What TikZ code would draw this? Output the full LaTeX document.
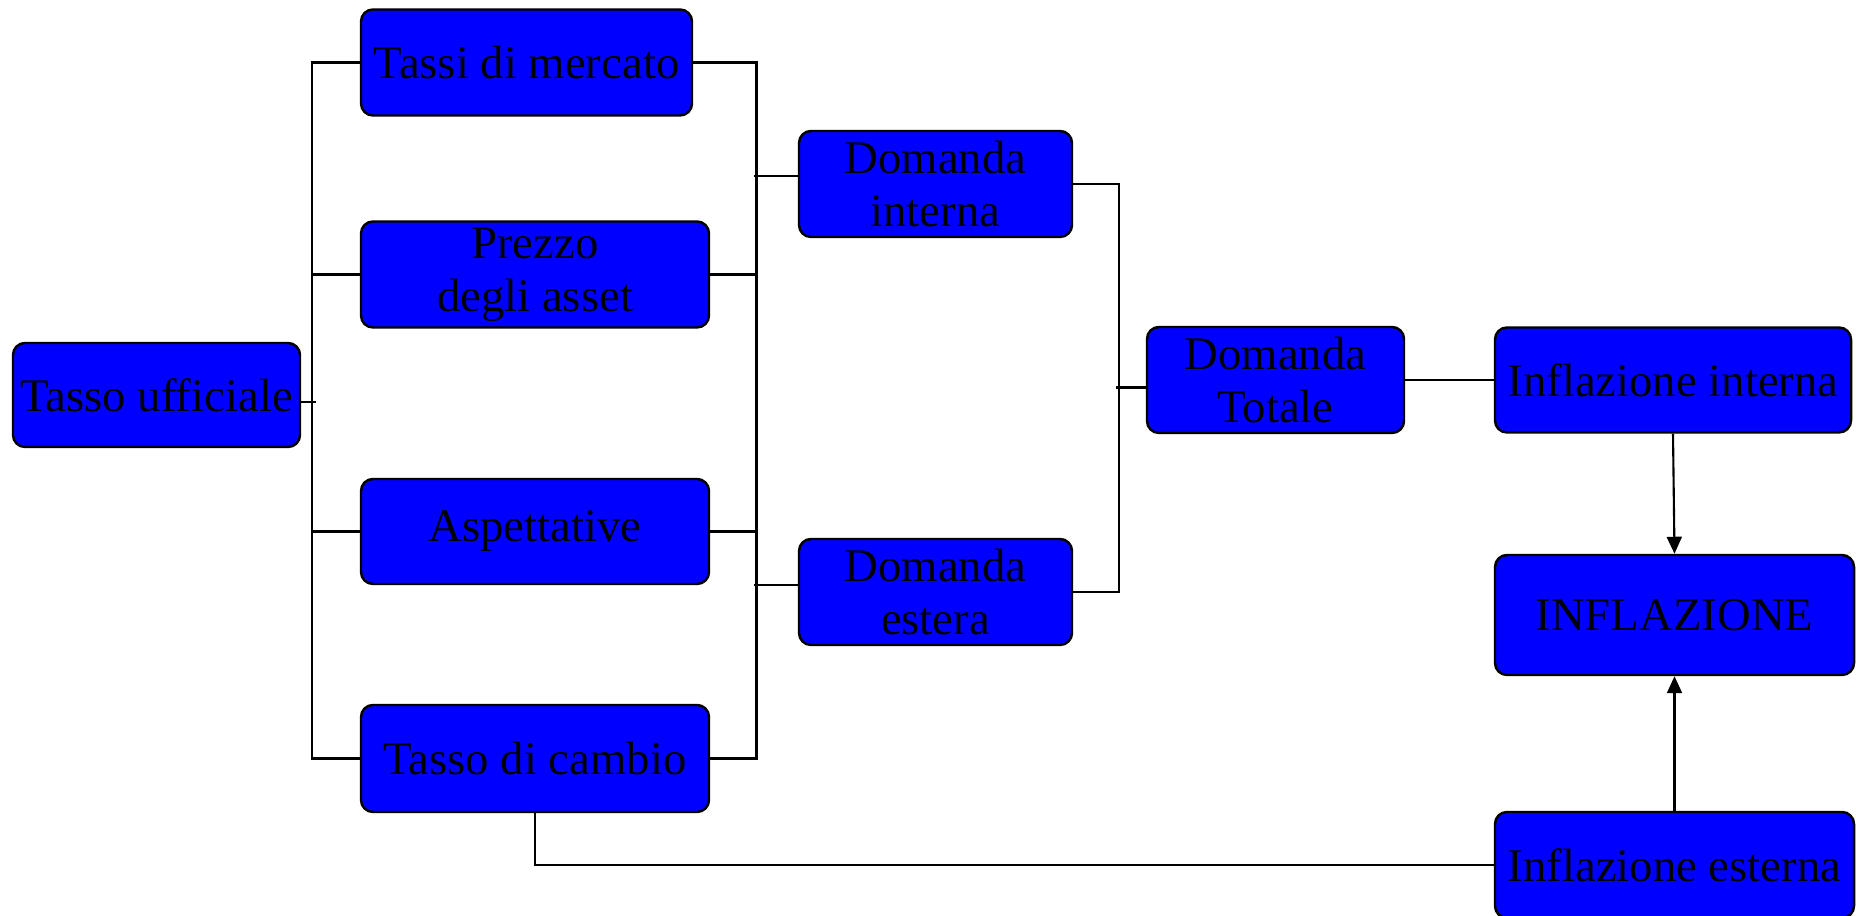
\documentclass[tikz,border=0pt]{standalone}
\usepackage{fontspec}
\setmainfont{Liberation Serif}
\usetikzlibrary{arrows.meta}

\tikzset{
  stage/.style={draw=black, line width=0.7pt, fill=blue, rounded corners=0.12cm,
    inner sep=0pt, align=center, font=\fontsize{13.3}{15}\selectfont},
  link/.style={line width=0.6pt},
  push/.style={link, -{Triangle[length=0.17cm,width=0.15cm]}}
}

\begin{document}
\begin{tikzpicture}
    \useasboundingbox (0,0) rectangle (18.56,-9.16);

    % the boxes
    \node[stage, minimum width=2.87cm, minimum height=1.04cm] (tu) at (1.565,-3.95) {Tasso ufficiale};
    \node[stage, minimum width=3.31cm, minimum height=1.06cm] (tm) at (5.265,-0.625) {Tassi di mercato};
    \node[stage, minimum width=3.48cm, minimum height=1.06cm] (pa) at (5.35,-2.745) {Prezzo\\ degli asset};
    \node[stage, minimum width=3.48cm, minimum height=1.05cm] (as) at (5.35,-5.315) {Aspettative};
    \node[stage, minimum width=3.48cm, minimum height=1.07cm] (tc) at (5.35,-7.585) {Tasso di cambio};

    \node[stage, minimum width=2.73cm, minimum height=1.06cm] (di) at (9.355,-1.84) {Domanda\\ interna};
    \node[stage, minimum width=2.73cm, minimum height=1.06cm] (de) at (9.355,-5.92) {Domanda\\ estera};
    \node[stage, minimum width=2.57cm, minimum height=1.06cm] (dt) at (12.755,-3.80) {Domanda\\ Totale};

    \node[stage, minimum width=3.56cm, minimum height=1.05cm] (ii) at (16.73,-3.80) {Inflazione interna};
    \node[stage, minimum width=3.59cm, minimum height=1.20cm] (inf) at (16.745,-6.15) {INFLAZIONE};
    \node[stage, minimum width=3.59cm, minimum height=1.06cm] (ie) at (16.745,-8.65) {Inflazione esterna};

    % the buses
    \coordinate (lb) at (3.12,0);
    \coordinate (rb) at (7.565,0);
    \coordinate (db) at (11.19,0);

    \draw[link] (tm.west) -- (tm.west -| lb) -- (tc.west -| lb) -- (tc.west);
    \draw[link] (pa.west) -- (pa.west -| lb);
    \draw[link] (as.west) -- (as.west -| lb);
    \draw[link] ([yshift=-0.07cm]tu.east) -- ([yshift=-0.07cm,xshift=0.04cm]tu.east -| lb);

    \draw[link] (tm.east) -- (tm.east -| rb) -- (tc.east -| rb) -- (tc.east);
    \draw[link] (pa.east) -- (pa.east -| rb);
    \draw[link] (as.east) -- (as.east -| rb);
    \draw[link] ([yshift=0.08cm]di.west) -- ([yshift=0.08cm,xshift=-0.03cm]di.west -| rb);
    \draw[link] ([yshift=0.07cm]de.west) -- ([yshift=0.07cm,xshift=-0.03cm]de.west -| rb);

    \draw[link] (di.east) -- (di.east -| db) -- (de.east -| db) -- (de.east);
    \draw[link] ([yshift=-0.075cm]dt.west) -- ([yshift=-0.075cm,xshift=-0.03cm]dt.west -| db);

    % towards inflation
    \draw[link] (dt.east) -- (ii.west);
    \draw[push] (ii.south) -- (inf.north);
    \draw[push] (ie.north) -- (inf.south);
    \draw[link] (tc.south) |- (ie.west);

\end{tikzpicture}
\end{document}
